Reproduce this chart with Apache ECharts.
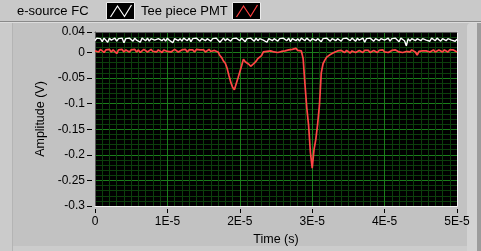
<!DOCTYPE html>
<html>
<head>
<meta charset="utf-8">
<script src="https://cdn.jsdelivr.net/npm/echarts@6/dist/echarts.min.js"></script>
<style>
html,body{margin:0;padding:0;background:#c2c2c2;}
#chart{width:481px;height:251px;}
</style>
</head>
<body>
<div id="chart"></div>
<script>
// ---- data ----
const seriesNames = ['e-source FC', 'Tee piece PMT'];
const xTickLabels = ['0', '1E-5', '2E-5', '3E-5', '4E-5', '5E-5'];
const sampleStep = 0.25e-6; // waveform dt (s)
const eSourceFC = [
0.023,0.028,0.025,0.027,0.021,0.028,0.026,0.020,0.028,0.024,0.027,0.028,0.022,0.027,0.024,0.028,0.019,0.027,0.024,0.028,
0.026,0.022,0.028,0.024,0.027,0.020,0.028,0.026,0.023,0.028,0.022,0.027,0.028,0.024,0.021,0.027,0.028,0.023,0.027,0.022,
0.028,0.024,0.027,0.019,0.027,0.028,0.023,0.027,0.022,0.028,0.026,0.023,0.028,0.021,0.027,0.024,0.028,0.026,0.022,0.027,
0.028,0.023,0.027,0.028,0.022,0.027,0.024,0.028,0.026,0.020,0.017,0.028,0.023,0.027,0.028,0.022,0.027,0.024,0.028,0.026,
0.023,0.028,0.026,0.021,0.027,0.024,0.028,0.026,0.022,0.028,0.023,0.027,0.028,0.024,0.027,0.020,0.027,0.028,0.023,0.027,
0.028,0.022,0.027,0.024,0.028,0.026,0.023,0.028,0.021,0.027,0.028,0.023,0.027,0.022,0.028,0.026,0.023,0.028,0.026,0.022,
0.027,0.028,0.023,0.027,0.028,0.021,0.027,0.024,0.028,0.026,0.022,0.027,0.028,0.023,0.027,0.028,0.022,0.027,0.024,0.028,
0.026,0.023,0.028,0.026,0.022,0.028,0.024,0.027,0.028,0.020,0.027,0.024,0.028,0.026,0.022,0.027,0.028,0.023,0.027,0.028,
0.024,0.027,0.028,0.022,0.027,0.024,0.028,0.026,0.021,0.028,0.026,0.023,0.013,0.027,0.022,0.027,0.028,0.023,0.027,0.026,
0.023,0.027,0.028,0.024,0.027,0.022,0.028,0.026,0.023,0.028,0.026,0.022,0.027,0.028,0.023,0.027,0.028,0.024,0.027,0.022,
0.026
];
const teePiecePMT = [
0.003,0.005,0.001,0.006,0.003,0.000,0.005,0.002,0.006,0.001,0.005,0.003,-0.002,0.005,0.002,0.006,0.001,0.005,0.003,0.001,
0.005,0.002,0.006,0.001,0.005,0.000,0.003,0.006,0.004,0.001,0.003,0.006,0.002,0.005,0.001,0.005,0.003,0.000,0.005,0.006,
0.002,0.005,0.001,0.003,0.006,0.004,0.001,0.003,0.005,0.002,0.006,0.001,0.005,0.003,0.005,0.001,0.006,0.003,0.005,0.002,
0.005,0.001,0.003,0.006,0.002,0.005,0.004,0.003,
0.001,-0.006,-0.010,-0.017,-0.021,-0.031,-0.045,-0.058,-0.068,-0.073,-0.071,-0.050,-0.038,-0.026,-0.013,-0.018,-0.020,
-0.023,-0.027,-0.028,-0.021,-0.017,-0.012,-0.010,-0.006,0.001,-0.002,0.002,0.001,
0.003,0.004,0.001,0.004,0.000,0.003,0.002,0.005,0.003,0.001,0.005,0.003,0.006,0.004,0.008,0.004,0.006,
0.003,-0.012,-0.062,-0.108,-0.142,-0.195,-0.226,-0.190,-0.170,-0.140,-0.103,-0.040,-0.022,-0.015,-0.009,-0.006,-0.004,-0.002,0.000,
0.001,0.003,0.000,0.004,0.002,0.000,0.004,0.002,-0.001,0.003,0.004,0.000,0.002,0.004,0.002,0.000,0.004,0.002,0.004,0.000,
0.002,0.004,0.001,0.000,0.004,0.002,0.005,0.001,0.003,0.000,0.002,0.004,0.001,0.005,0.003,0.001,0.004,0.000,0.003,0.002,
0.004,0.001,0.005,0.003,0.001,-0.005,0.002,0.005,0.003,0.001,0.003,0.005,0.001,0.003,0.005,0.001,0.003,0.005,0.003,0.001,
0.005,0.003,0.001,0.005,0.003,0.005,0.002,0.001
];
// ---- build ----
function toPairs(arr){ return arr.map((v,i)=>[i*sampleStep, v]); }
const FONT = 'Liberation Sans';
const MAJOR = '#1b7e1b', MINOR = '#0c3f0c';
const xGridColors = [MAJOR].concat(Array(9).fill(MINOR));
const yGridColors = [MAJOR].concat(Array(4).fill(MINOR));
const chart = echarts.init(document.getElementById('chart'), null, {renderer:'canvas'});
function legendIcon(x0, color){
  return [
    {type:'rect', shape:{x:x0, y:2.5, width:28, height:17}, style:{fill:'#000', stroke:'#ececec', lineWidth:1}, z:10},
    {type:'polyline', shape:{points:[[x0+4,17],[x0+11,6],[x0+18,16.5],[x0+25,5]]}, style:{stroke:color, lineWidth:1.2, fill:null}, z:11}
  ];
}
const option = {
  backgroundColor:'#c2c2c2',
  animation:false,
  textStyle:{color:'#000', fontFamily:FONT, fontSize:12},
  grid:{left:95, right:24, top:32, bottom:42, show:true, backgroundColor:'#000', borderWidth:0},
  graphic:[
    {type:'rect', shape:{x:0,y:0,width:481,height:21}, style:{fill:'#c9c9c9'}, z:0, silent:true},
    {type:'rect', shape:{x:0,y:21,width:481,height:1}, style:{fill:'#8a8a8a'}, z:1, silent:true},
    {type:'rect', shape:{x:0,y:22,width:481,height:1}, style:{fill:'#dcdcdc'}, z:1, silent:true},
    {type:'rect', shape:{x:0,y:23,width:12,height:228}, style:{fill:'#cbcbcb'}, z:0, silent:true},
    {type:'rect', shape:{x:12,y:23,width:1,height:228}, style:{fill:'#b4b4b4'}, z:0, silent:true},
    {type:'rect', shape:{x:467,y:23,width:10,height:228, r:[4,0,0,0]}, style:{fill:'#d3d3d3'}, z:0, silent:true},
    {type:'rect', shape:{x:477,y:23,width:4,height:228}, style:{fill:'#9c9c9c'}, z:0, silent:true},
    {type:'rect', shape:{x:13,y:246,width:454,height:5}, style:{fill:'#cccccc'}, z:0, silent:true},
    {type:'text', x:17, y:11.5, style:{text:seriesNames[0], fill:'#000', font:'13px "'+FONT+'"', verticalAlign:'middle'}, z:10},
    ...legendIcon(106.5, '#ffffff'),
    {type:'text', x:141, y:11.5, style:{text:seriesNames[1], fill:'#000', font:'13px "'+FONT+'"', verticalAlign:'middle'}, z:10},
    ...legendIcon(232.5, '#ff4040')
  ],
  xAxis:[
    {type:'value', min:0, max:5e-5, interval:1e-5, position:'bottom', offset:3,
     axisLine:{show:false, onZero:false}, axisTick:{show:true, length:4, lineStyle:{color:'#000'}},
     axisLabel:{color:'#000', fontFamily:FONT, fontSize:12, margin:7,
       formatter:(v)=>xTickLabels[Math.round(v/1e-5)]},
     splitLine:{show:false},
     name:'Time (s)', nameLocation:'middle', nameGap:24, nameTextStyle:{color:'#000', fontFamily:FONT, fontSize:12.5}},
    {type:'value', min:0, max:5e-5, interval:1e-6, position:'top',
     axisLine:{show:true, onZero:false, lineStyle:{color:'#5a5a5a', width:1}}, axisTick:{show:false}, axisLabel:{show:false},
     splitLine:{show:true, lineStyle:{color:xGridColors, width:1}}},
    {type:'value', min:0, max:5e-5, position:'bottom',
     axisLine:{show:true, onZero:false, lineStyle:{color:'#f2f2f2', width:1}}, axisTick:{show:false}, axisLabel:{show:false}, splitLine:{show:false}}
  ],
  yAxis:[
    {type:'value', min:-0.3, max:0.04, interval:0.05, position:'left', offset:3,
     axisLine:{show:false, onZero:false}, axisTick:{show:true, length:5, lineStyle:{color:'#000'}},
     axisLabel:{color:'#000', fontFamily:FONT, fontSize:12, margin:7},
     splitLine:{show:false},
     name:'Amplitude (V)', nameLocation:'middle', nameGap:31, nameTextStyle:{color:'#000', fontFamily:FONT, fontSize:12.5}},
    {type:'value', min:-0.3, max:0.04, interval:0.01, position:'right',
     axisLine:{show:true, onZero:false, lineStyle:{color:'#f2f2f2', width:1}}, axisTick:{show:false}, axisLabel:{show:false},
     splitLine:{show:true, lineStyle:{color:yGridColors, width:1}}},
    {type:'value', min:-0.3, max:0.04, position:'left',
     axisLine:{show:true, onZero:false, lineStyle:{color:'#5a5a5a', width:1}}, axisTick:{show:false}, axisLabel:{show:false}, splitLine:{show:false}}
  ],
  series:[
    {name:seriesNames[0], type:'line', xAxisIndex:0, yAxisIndex:0, data:toPairs(eSourceFC), showSymbol:false,
     lineStyle:{color:'#ffffff', width:1.4}, itemStyle:{color:'#ffffff'}, z:5},
    {name:seriesNames[1], type:'line', xAxisIndex:0, yAxisIndex:0, data:toPairs(teePiecePMT), showSymbol:false,
     lineStyle:{color:'#ff4545', width:1.7}, itemStyle:{color:'#ff4545'}, z:6}
  ]
};
chart.setOption(option);
</script>
</body>
</html>
